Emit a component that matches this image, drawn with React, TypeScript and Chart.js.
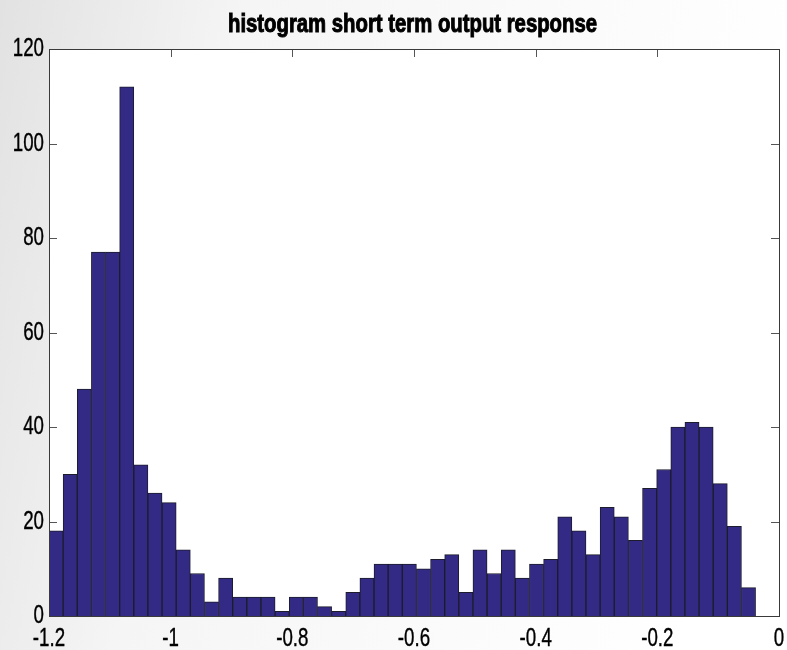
import React, { useEffect, useRef } from 'react';
import { Chart, registerables } from 'chart.js';

Chart.register(...registerables);

const titleText = 'histogram short term output response';
const binStart = -1.2;
const binWidth = 0.02323;
const counts = [
  18, 30, 48, 77, 77, 112, 32, 26, 24, 14,
  9, 3, 8, 4, 4, 4, 1, 4, 4, 2,
  1, 5, 8, 11, 11, 11, 10, 12, 13, 5,
  14, 9, 14, 8, 11, 12, 21, 18, 13, 23,
  21, 16, 27, 31, 40, 41, 40, 28, 19, 6,
];
const xTicks = [-1.2, -1, -0.8, -0.6, -0.4, -0.2, 0];
const yTicks = [0, 20, 40, 60, 80, 100, 120];

const FONT = "'Liberation Sans', Arial, 'DejaVu Sans', sans-serif";
const LABEL_SX = 0.72;

const bgPlugin = {
  id: 'bgPlugin',
  beforeDraw(chart: any) {
    const { ctx, width, height, chartArea: a } = chart;
    ctx.save();
    const g = ctx.createLinearGradient(0, 0, width, height * 0.25);
    g.addColorStop(0, '#e2e2e2');
    g.addColorStop(0.3, '#f5f5f5');
    g.addColorStop(1, '#ffffff');
    ctx.fillStyle = g;
    ctx.fillRect(0, 0, width, height);
    ctx.fillStyle = '#ffffff';
    ctx.fillRect(a.left, a.top, a.right - a.left, a.bottom - a.top);
    ctx.restore();
  },
};

function drawNarrow(ctx: CanvasRenderingContext2D, text: string, x: number, y: number, sx: number, align: CanvasTextAlign, stroke = 0) {
  ctx.save();
  ctx.translate(x, y);
  ctx.scale(sx, 1);
  ctx.textAlign = align;
  ctx.textBaseline = 'alphabetic';
  ctx.fillText(text, 0, 0);
  if (stroke > 0) {
    ctx.lineWidth = stroke;
    ctx.strokeStyle = ctx.fillStyle as string;
    ctx.strokeText(text, 0, 0);
  }
  ctx.restore();
}

const boxPlugin = {
  id: 'boxPlugin',
  beforeDatasetsDraw(chart: any) {
    const { ctx, chartArea: a, scales } = chart;
    const tl = 8;
    ctx.save();
    ctx.strokeStyle = '#555555';
    ctx.lineWidth = 1;
    ctx.beginPath();
    scales.x.ticks.forEach((t: any) => {
      const x = Math.round(scales.x.getPixelForValue(t.value)) + 0.5;
      ctx.moveTo(x, a.bottom);
      ctx.lineTo(x, a.bottom - tl);
      ctx.moveTo(x, a.top);
      ctx.lineTo(x, a.top + tl);
    });
    scales.y.ticks.forEach((t: any) => {
      const y = Math.round(scales.y.getPixelForValue(t.value)) + 0.5;
      ctx.moveTo(a.left, y);
      ctx.lineTo(a.left + tl, y);
      ctx.moveTo(a.right, y);
      ctx.lineTo(a.right - tl, y);
    });
    ctx.stroke();
    ctx.restore();
  },
  afterDatasetsDraw(chart: any) {
    const { ctx, chartArea: a, scales } = chart;
    ctx.save();
    ctx.strokeStyle = '#3a3a3a';
    ctx.lineWidth = 1;
    ctx.strokeRect(Math.round(a.left) + 0.5, Math.round(a.top) + 0.5, Math.round(a.right - a.left), Math.round(a.bottom - a.top));

    ctx.fillStyle = '#000000';
    ctx.font = `26px ${FONT}`;
    scales.y.ticks.forEach((t: any) => {
      const y = scales.y.getPixelForValue(t.value);
      drawNarrow(ctx, String(t.label), a.left - 5, y + 7, LABEL_SX, 'right', 0.4);
    });
    scales.x.ticks.forEach((t: any) => {
      const x = scales.x.getPixelForValue(t.value);
      drawNarrow(ctx, String(t.label), x, a.bottom + 30, LABEL_SX, 'center', 0.4);
    });

    ctx.font = `bold 25px ${FONT}`;
    const w = ctx.measureText(titleText).width;
    const sx = 369 / w;
    drawNarrow(ctx, titleText, (a.left + a.right) / 2 - 1.5, 31.5, sx, 'center', 1);
    ctx.restore();
  },
};

export default function App() {
  const ref = useRef<HTMLCanvasElement>(null);
  useEffect(() => {
    document.body.style.margin = '0';
    const canvas = ref.current!;
    const data = counts.map((c, i) => ({ x: binStart + (i + 0.5) * binWidth, y: c }));
    const chart = new Chart(canvas, {
      type: 'bar',
      data: {
        datasets: [
          {
            data: data as any,
            backgroundColor: '#332a85',
            borderColor: '#1c1c2c',
            borderWidth: 1,
            barPercentage: 1,
            categoryPercentage: 1,
          },
        ],
      },
      plugins: [bgPlugin, boxPlugin],
      options: {
        animation: false,
        responsive: true,
        maintainAspectRatio: false,
        layout: { padding: { left: 0, right: 8, top: 49, bottom: 0 } },
        plugins: {
          legend: { display: false },
          tooltip: { enabled: false },
          title: { display: false, text: titleText },
        },
        scales: {
          x: {
            type: 'linear',
            min: -1.2,
            max: 0,
            offset: false,
            grid: { display: false, drawTicks: false, offset: false },
            border: { display: false },
            afterBuildTicks: (s: any) => {
              s.ticks = xTicks.map((v) => ({ value: v }));
            },
            afterFit: (s: any) => {
              s.height = 34;
              s.paddingLeft = 0;
              s.paddingRight = 0;
            },
            ticks: {
              display: false,
              autoSkip: false,
              callback: (v: any) => String(Number(Number(v).toFixed(1))),
            },
          },
          y: {
            type: 'linear',
            min: 0,
            max: 120,
            grid: { display: false, drawTicks: false },
            border: { display: false },
            afterBuildTicks: (s: any) => {
              s.ticks = yTicks.map((v) => ({ value: v }));
            },
            afterFit: (s: any) => {
              s.width = 49;
              s.paddingTop = 0;
              s.paddingBottom = 0;
            },
            ticks: {
              display: false,
              callback: (v: any) => String(v),
            },
          },
        },
      },
    });
    return () => chart.destroy();
  }, []);
  return (
    <div style={{ width: 787, height: 650, position: 'relative' }}>
      <canvas ref={ref} />
    </div>
  );
}
